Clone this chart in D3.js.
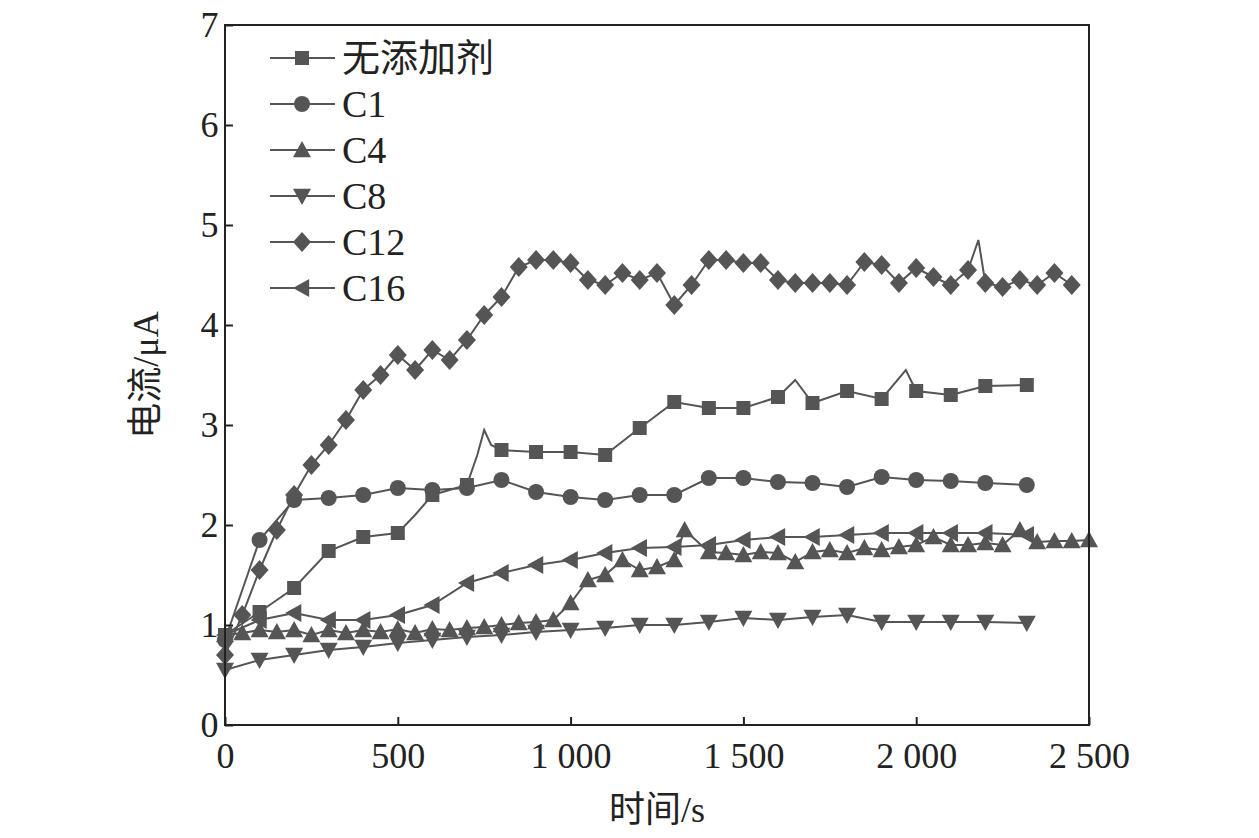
<!DOCTYPE html>
<html><head><meta charset="utf-8">
<script src="https://cdn.jsdelivr.net/npm/d3@7"></script>
<style>body{margin:0;background:#fff}</style>
</head><body>
<svg id="chart" width="1259" height="838"></svg>
<script>
const seriesNames = ["无添加剂", "C1", "C4", "C8", "C12", "C16"];
const xTicks = [0, 500, 1000, 1500, 2000, 2500];
const xTickLabels = ["0", "500", "1 000", "1 500", "2 000", "2 500"];
const yTicks = [0, 1, 2, 3, 4, 5, 6, 7];

// third value 0 = line point without a marker
const noAdd = [[0,0.9],[100,1.13],[200,1.37],[300,1.74],[400,1.88],[500,1.92],[550,2.1,0],[600,2.3],[700,2.4],[730,2.7,0],[750,2.95,0],[770,2.8,0],[800,2.75],[900,2.73],[1000,2.73],[1100,2.7],[1200,2.97],[1300,3.23],[1400,3.17],[1500,3.17],[1600,3.28],[1650,3.45,0],[1700,3.22],[1800,3.34],[1900,3.26],[1970,3.55,0],[2000,3.34],[2100,3.3],[2200,3.39],[2320,3.4]];
const c1 = [[0,0.85],[100,1.85],[200,2.25],[300,2.27],[400,2.3],[500,2.37],[600,2.35],[700,2.37],[800,2.45],[900,2.33],[1000,2.28],[1100,2.25],[1200,2.3],[1300,2.3],[1400,2.47],[1500,2.47],[1600,2.43],[1700,2.42],[1800,2.38],[1900,2.48],[2000,2.45],[2100,2.44],[2200,2.42],[2320,2.4]];
const c4 = [[0,0.9],[50,0.92],[100,0.95],[150,0.93],[200,0.95],[250,0.9],[300,0.95],[350,0.92],[400,0.95],[450,0.93],[500,0.96],[550,0.92],[600,0.96],[650,0.95],[700,0.97],[750,0.98],[800,1.0],[850,1.02],[900,1.03],[950,1.05],[1000,1.22],[1050,1.45],[1100,1.5],[1150,1.65],[1200,1.55],[1250,1.58],[1300,1.65],[1330,1.95],[1400,1.73],[1450,1.72],[1500,1.7],[1550,1.73],[1600,1.72],[1650,1.63],[1700,1.73],[1750,1.75],[1800,1.72],[1850,1.77],[1900,1.75],[1950,1.78],[2000,1.8],[2050,1.88],[2100,1.8],[2150,1.8],[2200,1.82],[2250,1.8],[2300,1.95],[2350,1.83],[2400,1.84],[2450,1.84],[2500,1.85]];
const c8 = [[0,0.55],[100,0.65],[200,0.7],[300,0.75],[400,0.78],[500,0.82],[600,0.85],[700,0.88],[800,0.9],[900,0.93],[1000,0.95],[1100,0.97],[1200,1.0],[1300,1.0],[1400,1.03],[1500,1.07],[1600,1.05],[1700,1.08],[1800,1.1],[1900,1.03],[2000,1.03],[2100,1.03],[2200,1.03],[2320,1.02]];
const c12 = [[0,0.7],[50,1.1],[100,1.55],[150,1.95],[200,2.3],[250,2.6],[300,2.8],[350,3.05],[400,3.35],[450,3.5],[500,3.7],[550,3.55],[600,3.75],[650,3.65],[700,3.85],[750,4.1],[800,4.28],[850,4.58],[900,4.65],[950,4.65],[1000,4.62],[1050,4.45],[1100,4.4],[1150,4.52],[1200,4.45],[1250,4.52],[1300,4.2],[1350,4.4],[1400,4.65],[1450,4.65],[1500,4.62],[1550,4.62],[1600,4.45],[1650,4.42],[1700,4.42],[1750,4.42],[1800,4.4],[1850,4.63],[1900,4.6],[1950,4.42],[2000,4.57],[2050,4.48],[2100,4.4],[2150,4.55],[2180,4.85,0],[2200,4.42],[2250,4.38],[2300,4.45],[2350,4.4],[2400,4.52],[2450,4.4]];
const c16 = [[0,0.9],[100,1.05],[200,1.12],[300,1.05],[400,1.05],[500,1.1],[600,1.2],[700,1.42],[800,1.52],[900,1.6],[1000,1.65],[1100,1.72],[1200,1.77],[1300,1.78],[1400,1.8],[1500,1.85],[1600,1.88],[1700,1.88],[1800,1.9],[1900,1.92],[2000,1.92],[2100,1.92],[2200,1.92],[2320,1.9]];

const allSeries = [noAdd, c1, c4, c8, c12, c16];
const col = "#555";

const svg = d3.select("#chart");
const x = d3.scaleLinear().domain([0, 2500]).range([225, 1089]);
const y = d3.scaleLinear().domain([0, 7]).range([725, 25]);

function marker(g, k, cx, cy) {
  const s = 9;
  if (k === 0) g.append("rect").attr("x", cx - 7).attr("y", cy - 7).attr("width", 14).attr("height", 14).attr("fill", col);
  else if (k === 1) g.append("circle").attr("cx", cx).attr("cy", cy).attr("r", 8).attr("fill", col);
  else {
    let p;
    if (k === 2) p = [[0,-s],[s,s*0.8],[-s,s*0.8]];
    if (k === 3) p = [[0,s],[s,-s*0.8],[-s,-s*0.8]];
    if (k === 4) p = [[0,-s-1],[s,0],[0,s+1],[-s,0]];
    if (k === 5) p = [[-s,0],[s*0.8,-s],[s*0.8,s]];
    g.append("polygon").attr("points", p.map(d => [cx + d[0], cy + d[1]].join(",")).join(" ")).attr("fill", col);
  }
}

const line = d3.line().x(d => x(d[0])).y(d => y(d[1]));
allSeries.forEach((data, k) => {
  svg.append("path").attr("d", line(data)).attr("fill", "none").attr("stroke", col).attr("stroke-width", 2);
  const g = svg.append("g");
  data.filter(d => d[2] !== 0).forEach(d => marker(g, k, x(d[0]), y(d[1])));
});

svg.append("rect").attr("x", 225).attr("y", 25).attr("width", 864).attr("height", 700)
  .attr("fill", "none").attr("stroke", "#222").attr("stroke-width", 2);

const font = "'Liberation Serif', 'Times New Roman', serif";
const mixed = "'Liberation Serif', 'Noto Sans CJK SC', serif";
const xAxis = svg.append("g").attr("transform", "translate(0,725)")
  .call(d3.axisBottom(x).tickValues(xTicks).tickSize(-8).tickFormat((d, i) => xTickLabels[i]));
const yAxis = svg.append("g").attr("transform", "translate(225,0)")
  .call(d3.axisLeft(y).tickValues(yTicks).tickSize(-8).tickFormat(d3.format("d")));
[xAxis, yAxis].forEach(a => {
  a.select(".domain").remove();
  a.selectAll("line").attr("stroke", "#222").attr("stroke-width", 2);
  a.selectAll("text").attr("font-family", font).attr("font-size", 36).attr("fill", "#222");
});
xAxis.selectAll("text").attr("dy", "1.1em");
yAxis.selectAll("text").attr("dx", "-0.1em");

svg.append("text").attr("x", 657).attr("y", 822).attr("text-anchor", "middle")
  .attr("font-family", mixed).attr("font-size", 36).attr("fill", "#222").text("时间/s");
svg.append("text").attr("transform", "translate(158,375) rotate(-90)").attr("text-anchor", "middle")
  .attr("font-family", mixed).attr("font-size", 36).attr("fill", "#222").text("电流/μA");

const leg = svg.append("g");
seriesNames.forEach((n, k) => {
  const ly = 58 + k * 46;
  leg.append("line").attr("x1", 270).attr("x2", 335).attr("y1", ly).attr("y2", ly).attr("stroke", col).attr("stroke-width", 2);
  marker(leg, k, 302, ly);
  leg.append("text").attr("x", 342).attr("y", ly + 13).attr("font-family", mixed)
    .attr("font-size", 38).attr("fill", "#222").text(n);
});
</script>
</body></html>
